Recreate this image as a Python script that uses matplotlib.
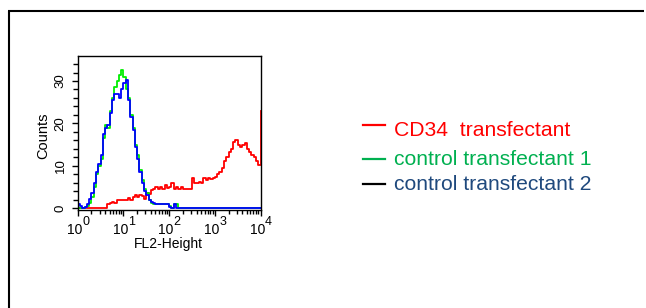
import numpy as np
import matplotlib
matplotlib.use("Agg")
import matplotlib.pyplot as plt
from matplotlib.lines import Line2D
from matplotlib.ticker import FixedLocator, NullFormatter

plt.rcParams['font.family'] = ['Liberation Sans', 'DejaVu Sans']

# FL2 channel positions (log10 of FL2-Height)
fl2_log = [0.00, 0.05, 0.10, 0.15, 0.20, 0.25, 0.30, 0.35, 0.40, 0.45,
           0.50, 0.55, 0.60, 0.65, 0.70, 0.75, 0.80, 0.85, 0.90, 0.95,
           1.00, 1.05, 1.10, 1.15, 1.20, 1.25, 1.30, 1.35, 1.40, 1.45,
           1.50, 1.55, 1.60, 1.65, 1.70, 1.75, 1.80, 1.85, 1.90, 1.95,
           2.00, 2.05, 2.10, 2.15, 2.20, 2.25, 2.30, 2.35, 2.40, 2.45,
           2.50, 2.55, 2.60, 2.65, 2.70, 2.75, 2.80, 2.85, 2.90, 2.95,
           3.00, 3.05, 3.10, 3.15, 3.20, 3.25, 3.30, 3.35, 3.40, 3.45,
           3.50, 3.55, 3.60, 3.65, 3.70, 3.75, 3.80, 3.85, 3.90, 3.95,
           4.00]

cd34_counts = [0, 0, 0, 0, 0, 0, 0, 0, 0, 0,
               0, 0, 0, 1.0, 1.3, 1.5, 1.2, 1.9, 1.8, 2.0,
               1.8, 2.0, 2.4, 2.0, 2.7, 3.0, 2.5, 3.0, 2.8, 2.2,
               3.5, 3.2, 4.3, 4.5, 5.0, 4.6, 5.0, 4.5, 5.4, 4.8,
               5.0, 5.8, 4.5, 5.0, 4.6, 5.0, 4.5, 4.5, 4.5, 4.5,
               7.0, 6.0, 5.8, 6.2, 6.0, 7.0, 6.5, 7.0, 6.8, 7.2,
               7.4, 8.0, 8.5, 9.5, 11.0, 12.0, 13.3, 14.0, 15.5, 16.1,
               15.0, 14.5, 14.8, 15.3, 14.0, 13.3, 12.5, 12.0, 11.0, 10.2,
               23.0]

control1_counts = [0, 0, 0, 0.2, 0.5, 1.2, 2.5, 5.0, 8.0, 10.0,
                   11.5, 16.5, 19.5, 19.0, 23.0, 26.0, 28.5, 30.0, 31.5, 32.5,
                   31.0, 28.0, 26.0, 22.0, 19.0, 15.0, 12.5, 9.0, 6.5, 4.5,
                   3.5, 2.0, 1.2, 1.0, 1.0, 1.0, 1.0, 1.0, 1.0, 1.0,
                   0.5, 0, 1.0, 1.0, 0, 0, 0, 0, 0, 0,
                   0, 0, 0, 0, 0, 0, 0, 0, 0, 0,
                   0, 0, 0, 0, 0, 0, 0, 0, 0, 0,
                   0, 0, 0, 0, 0, 0, 0, 0, 0, 0,
                   0]

control2_counts = [1.0, 0.5, 0, 0.3, 1.0, 2.2, 3.5, 6.0, 8.5, 10.5,
                   12.5, 17.5, 19.0, 19.5, 22.5, 25.5, 27.0, 27.0, 26.0, 28.0,
                   29.5, 30.2, 25.5, 21.5, 18.5, 14.5, 11.5, 8.5, 5.8, 4.0,
                   3.0, 2.0, 1.5, 1.2, 1.0, 1.0, 1.0, 1.0, 1.0, 1.0,
                   0.3, 0, 1.0, 0, 0, 0, 0, 0, 0, 0,
                   0, 0, 0, 0, 0, 0, 0, 0, 0, 0,
                   0, 0, 0, 0, 0, 0, 0, 0, 0, 0,
                   0, 0, 0, 0, 0, 0, 0, 0, 0, 0,
                   0]

legend_labels = ["CD34  transfectant", "control transfectant 1", "control transfectant 2"]
legend_text_colors = ["#ff0000", "#00b050", "#1f497d"]
legend_line_colors = ["#ff0000", "#00b050", "#000000"]
decades = [0, 1, 2, 3, 4]
y_major = [0, 10, 20, 30]

W, H = 646, 308
fig = plt.figure(figsize=(W / 100, H / 100), dpi=100)

def fx(px):
    return px / W

def fy(py):
    return 1 - py / H

# outer border (left and top edges visible)
fig.add_artist(Line2D([fx(8.7), fx(8.7)], [fy(10.5), fy(320)], color='black', lw=1.5,
                      transform=fig.transFigure, solid_capstyle='butt'))
fig.add_artist(Line2D([fx(8.0), fx(644)], [fy(11.2), fy(11.2)], color='black', lw=1.5,
                      transform=fig.transFigure, solid_capstyle='butt'))

ax = fig.add_axes([fx(77.7), fy(209.5), fx(260.5) - fx(77.7), fy(56) - fy(209.5)])
x = 10 ** np.array(fl2_log)
ax.plot(x, cd34_counts, color='#ff0000', lw=1.3, drawstyle='steps-post')
ax.plot(x, control1_counts, color='#00ee00', lw=1.3, drawstyle='steps-post')
ax.plot(x, control2_counts, color='#0000ff', lw=1.3, drawstyle='steps-post')

ax.set_xscale('log')
ax.set_xlim(1, 1e4)
ax.set_ylim(-0.35, 35.9)
for s in ax.spines.values():
    s.set_linewidth(1.0)

ax.yaxis.set_major_locator(FixedLocator(y_major))
ax.yaxis.set_minor_locator(FixedLocator(list(np.arange(0, 36, 2))))
ax.set_yticklabels([str(v) for v in y_major], rotation=90, va='center', fontsize=9.5)
ax.tick_params(axis='y', which='major', direction='out', length=4, width=1.0, pad=4)
ax.tick_params(axis='y', which='minor', direction='out', length=3.5, width=1.0)

ax.xaxis.set_major_locator(FixedLocator([10 ** d for d in decades]))
ax.xaxis.set_minor_locator(FixedLocator([m * 10 ** d for d in decades[:-1] for m in range(2, 10)]))
ax.xaxis.set_major_formatter(NullFormatter())
ax.xaxis.set_minor_formatter(NullFormatter())
ax.tick_params(axis='x', which='major', direction='out', length=4.5, width=1.0)
ax.tick_params(axis='x', which='minor', direction='out', length=3, width=1.0)

for d in decades:
    ax.annotate('10', xy=(10 ** d, 0), xycoords=('data', 'axes fraction'),
                xytext=(-2.2, -9.5), textcoords='offset points',
                ha='center', va='top', fontsize=10)
    ax.annotate(str(d), xy=(10 ** d, 0), xycoords=('data', 'axes fraction'),
                xytext=(3.2, -5.0), textcoords='offset points',
                ha='left', va='top', fontsize=9)

fig.text(fx(43.5), fy(136), 'Counts', fontsize=10.5, rotation=90, ha='center', va='center')
fig.text(fx(168), fy(244), 'FL2-Height', fontsize=10, ha='center', va='center')

# legend
line_y = [125, 159.3, 184]
text_y = [130, 160, 184]
for lab, tc, lc, ly, ty in zip(legend_labels, legend_text_colors, legend_line_colors, line_y, text_y):
    fig.add_artist(Line2D([fx(362.5), fx(385)], [fy(ly), fy(ly)], color=lc, lw=1.6,
                          transform=fig.transFigure))
    fig.text(fx(394), fy(ty), lab, color=tc, fontsize=15.2, ha='left', va='center')

fig.savefig('out.png', dpi=100)
